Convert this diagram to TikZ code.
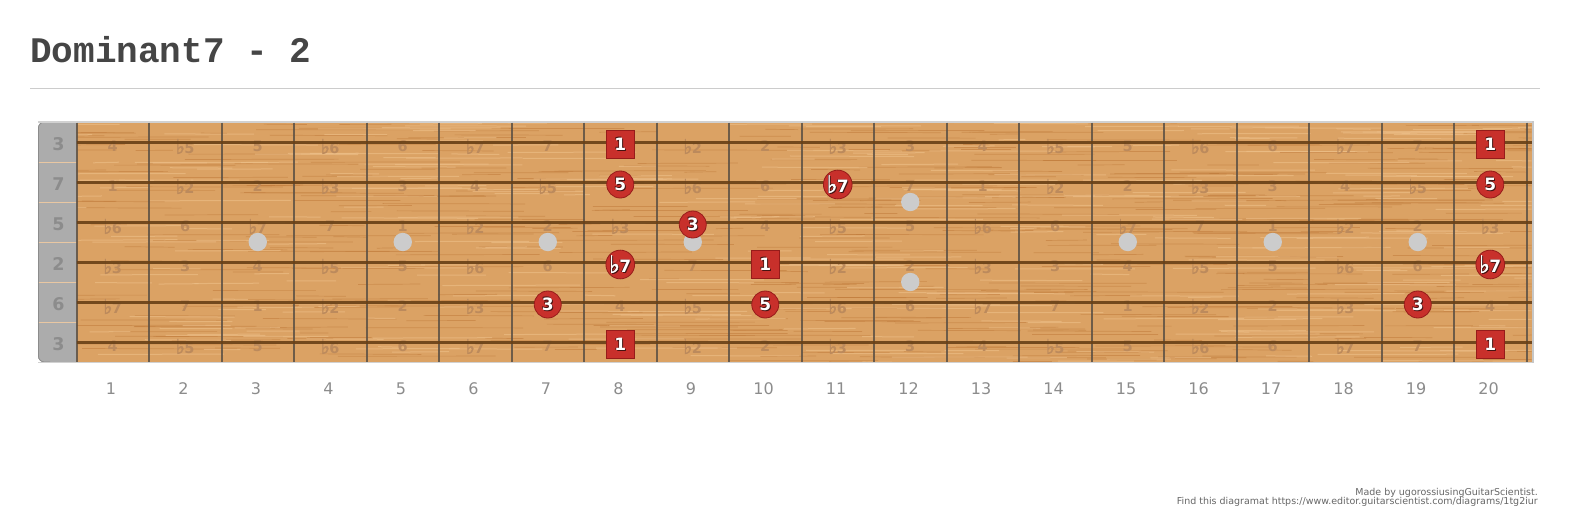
\documentclass[tikz,border=0pt]{standalone}
\usepackage{fontspec}
\setmainfont{DejaVu Sans}
\newfontfamily\titlefont{Liberation Mono}
\newfontface\flatfont[FakeBold=2]{DejaVu Sans}

\definecolor{wood}{RGB}{219,162,100}
\definecolor{graindark}{RGB}{190,120,55}
\definecolor{grainlight}{RGB}{238,192,138}
\definecolor{faint}{RGB}{188,138,92}
\definecolor{fretc}{RGB}{92,80,68}
\definecolor{stringc}{RGB}{104,64,22}
\definecolor{nutgray}{RGB}{172,172,172}
\definecolor{nuttext}{RGB}{140,140,140}
\definecolor{notered}{RGB}{200,48,43}
\definecolor{noteedge}{RGB}{150,28,26}
\definecolor{shadowc}{RGB}{70,20,18}

% 降号
\newcommand\flt{\scalebox{1.3}[1.4]{\flatfont ♭}\kern-0.5pt}
% 音程名称
\newcommand\ivname[1]{\ifcase#1 1\or \flt2\or 2\or \flt3\or 3\or 4\or \flt5\or 5\or \flt6\or 6\or \flt7\or 7\fi}
% 带阴影的白字
\newcommand\shadowtxt[1]{%
  \rlap{\kern1pt\raisebox{-1pt}{\color{shadowc}#1}}%
  \rlap{\kern-0.6pt\raisebox{0.4pt}{\color{shadowc}#1}}%
  #1}

\tikzset{
  faintlbl/.style={text=faint, font=\fontsize{14.5}{14.5}\bfseries\selectfont, inner sep=0pt},
  nutlbl/.style={text=nuttext, font=\fontsize{17.5}{17.5}\bfseries\selectfont, inner sep=0pt},
  fretnum/.style={text=black!45, font=\fontsize{16}{16}\selectfont, inner sep=0pt},
  notebase/.style={text=white, font=\fontsize{17}{17}\bfseries\selectfont, inner sep=0pt,
    fill=notered, draw=noteedge, line width=0.8pt},
  rootnote/.style={notebase, rectangle, minimum size=28pt},
  chordnote/.style={notebase, circle, minimum size=27pt},
  inlay/.style={fill=black!20},
  footer/.style={anchor=base east, text=black!60, font=\fontsize{9.5}{9.5}\selectfont, inner sep=0pt},
}

% 和弦音所在格 (品/弦)
\def\notelist{8/1/1/rootnote, 8/2/5/chordnote, 8/4/\flt7/chordnote, 8/6/1/rootnote,
  9/3/3/chordnote, 10/4/1/rootnote, 10/5/5/chordnote, 11/2/\flt7/chordnote, 7/5/3/chordnote,
  19/5/3/chordnote, 20/1/1/rootnote, 20/2/5/chordnote, 20/4/\flt7/chordnote, 20/6/1/rootnote}
\foreach \f/\s/\lb/\kind in \notelist {\global\expandafter\let\csname hit@\f@\s\endcsname\relax}

\begin{document}
\begin{tikzpicture}[x=1pt, y=-1pt]
  \useasboundingbox (0,0) rectangle (1573,519);

  % 标题
  \node[anchor=base west, text=black!73, font=\titlefont\fontsize{36}{36}\bfseries\selectfont, inner sep=0pt]
    (title) at (30,63) {Dominant7 - 2};
  \draw[black!20, line width=1pt] (30,88) -- (1540,88);

  % 琴枕
  \fill[nutgray, rounded corners=6pt] (90,122) -- (38,122) -- (38,362) -- (90,362) -- cycle;
  \draw[black!45, line width=0.8pt, rounded corners=6pt] (50,122) -- (38.4,122) -- (38.4,362) -- (50,362);
  \foreach \s in {1,...,5}
    \draw[wood!60!white, line width=0.6pt] (38.5,{122+40*\s}) -- (76.5,{122+40*\s});

  % 指板 (木纹)
  \fill[wood] (76.5,122) rectangle (1531.5,362);
  \begin{scope}
    \clip (76.5,122) rectangle (1531.5,362);
    \pgfmathsetseed{17}
    \foreach \i in {1,...,480} {
      \pgfmathsetmacro\gx{40+rnd*1480}
      \pgfmathsetmacro\gy{122+rnd*240}
      \pgfmathsetmacro\gl{25+rnd*140}
      \draw[graindark, opacity=0.5, line width=0.7pt] (\gx,\gy) -- ++(\gl,{rnd*1.2-0.6});
    }
    \foreach \i in {1,...,340} {
      \pgfmathsetmacro\gx{40+rnd*1480}
      \pgfmathsetmacro\gy{122+rnd*240}
      \pgfmathsetmacro\gl{25+rnd*120}
      \draw[grainlight, opacity=0.6, line width=1pt] (\gx,\gy) -- ++(\gl,{rnd*1.2-0.6});
    }
  \end{scope}
  \draw[black!18, line width=1.5pt] (38,121.8) -- (1533,121.8);
  \draw[black!18, line width=1.5pt] (38,362.4) -- (1533,362.4);
  \draw[black!22, line width=2.5pt] (1532.8,121) -- (1532.8,363);

  % 音程 (淡色, 和弦音处略去)
  \foreach \s/\off in {1/4,2/11,3/7,4/2,5/9,6/4}
    \foreach \f in {1,...,20} {
      \pgfmathtruncatemacro\iv{mod(\off+\f,12)}
      \ifcsname hit@\f@\s\endcsname\else
        \node[faintlbl] (iv-\s-\f) at ({40.25+72.5*\f},{106.5+40*\s}) {\ivname{\iv}};
      \fi
    }

  % 品丝
  \foreach \f in {0,...,20}
    \draw[fretc, opacity=0.85, line width=2pt] ({76.5+72.5*\f},122.5) -- ({76.5+72.5*\f},361.5);

  % 琴弦
  \foreach \s in {1,...,6}
    \draw[stringc, opacity=0.9, line width=3pt] (76.5,{102+40*\s}) -- (1531.5,{102+40*\s});

  % 空弦音程
  \foreach \s/\lb in {1/3,2/7,3/5,4/2,5/6,6/3}
    \node[nutlbl] (nut-\s) at (58.5,{104.5+40*\s}) {\lb};

  % 品位标记
  \foreach \f in {3,5,7,9,15,17,19}
    \fill[inlay] ({40.25+72.5*\f},242) circle (9.2pt);
  \fill[inlay] ({40.25+72.5*12},202) circle (9.2pt);
  \fill[inlay] ({40.25+72.5*12},282) circle (9.2pt);

  % 和弦音
  \foreach \f/\s/\lb/\kind in \notelist
    \node[\kind] (note-\f-\s) at ({40.25+72.5*\f},{104.5+40*\s}) {\shadowtxt{\lb}};

  % 品号
  \foreach \f in {1,...,20}
    \node[fretnum] (fn-\f) at ({38.5+72.5*\f},389) {\f};

  % 页脚
  \node[footer] (made) at (1538,495) {Made by ugorossiusingGuitarScientist.};
  \node[footer] (find) at (1538,504) {Find this diagramat https://www.editor.guitarscientist.com/diagrams/1tg2iur};

\end{tikzpicture}
\end{document}
